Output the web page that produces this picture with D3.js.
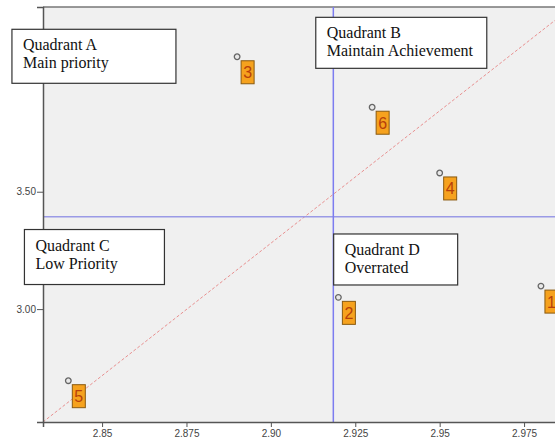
<!DOCTYPE html>
<html>
<head>
<meta charset="utf-8">
<script src="https://cdn.jsdelivr.net/npm/d3@7"></script>
<style>
	body { margin: 0; background: #fff; }
	svg { display: block; overflow: hidden; }
	.axis text { font-family: Arial, "Liberation Sans", sans-serif; font-size: 10px; fill: #444; }
	.axis path, .axis line { stroke: #555; }
	.quad text { font-family: "Liberation Serif", "Times New Roman", serif; font-size: 16px; fill: #111; }
	.pt text { font-family: Arial, "Liberation Sans", sans-serif; font-size: 16px; fill: #b8400a; }
</style>
</head>
<body>
<div id="chart"></div>
<script>
// data
let ids = [1, 2, 3, 4, 5, 6];
let xVals = [2.980, 2.920, 2.890, 2.950, 2.840, 2.930];
let yVals = [3.098, 3.050, 4.075, 3.580, 2.695, 3.860];
let xTicks = [2.85, 2.875, 2.90, 2.925, 2.95, 2.975];
let yTicks = [3.00, 3.50];
let xMean = 2.9185;
let yMean = 3.393;

// quadrant notes, anchored in data units (top-left corner)
let quadLines = [
	["Quadrant A", "Main priority"],
	["Quadrant B", "Maintain Achievement"],
	["Quadrant C", "Low Priority"],
	["Quadrant D", "Overrated"]
];
let quadX = [2.8233, 2.9133, 2.8270, 2.9186];
let quadY = [4.192, 4.243, 3.339, 3.320];

// box sizes (px) - style, not data
let quadW = [164, 171, 140, 124];
let quadH = [54, 51, 55, 51];

let width = 555, height = 443;
let margin = {top: 7, left: 43, right: -17, bottom: 21};
let innerWidth = width - margin.left - margin.right;
let innerHeight = height - margin.top - margin.bottom;

let x = d3.scaleLinear().domain([2.8325, 2.9892]).range([0, innerWidth]);
let y = d3.scaleLinear().domain([2.519, 4.287]).range([innerHeight, 0]);

let svg = d3.select("#chart").append("svg")
	.attr("width", width)
	.attr("height", height);

let g = svg.append("g")
	.attr("transform", "translate(" + margin.left + "," + margin.top + ")");

// plot background
g.append("rect")
	.attr("width", innerWidth)
	.attr("height", innerHeight)
	.attr("fill", "#f0f0f0");

// frame top
g.append("line")
	.attr("x1", 0).attr("x2", innerWidth)
	.attr("y1", 0).attr("y2", 0)
	.attr("stroke", "#777").attr("stroke-width", 1.5);

// diagonal reference line (corner to corner)
g.append("line")
	.attr("x1", x(x.domain()[0])).attr("y1", y(y.domain()[0]))
	.attr("x2", x(x.domain()[1])).attr("y2", y(y.domain()[1]))
	.attr("stroke", "#e89090")
	.attr("stroke-width", 1)
	.attr("stroke-dasharray", "3,2");

// mean lines
g.append("line")
	.attr("x1", 0).attr("x2", innerWidth)
	.attr("y1", y(yMean)).attr("y2", y(yMean))
	.attr("stroke", "#9a9ae6").attr("stroke-width", 1.5);
g.append("line")
	.attr("x1", x(xMean)).attr("x2", x(xMean))
	.attr("y1", 0).attr("y2", innerHeight)
	.attr("stroke", "#7c7cf0").attr("stroke-width", 1.5);

// axes
let xAxis = d3.axisBottom(x).tickValues(xTicks).tickSize(5).tickPadding(3)
	.tickFormat(d => d === 2.875 || d === 2.925 || d === 2.975 ? d3.format(".3f")(d) : d3.format(".2f")(d));
let yAxis = d3.axisLeft(y).tickValues(yTicks).tickSize(6).tickPadding(1).tickFormat(d3.format(".2f"));

g.append("g")
	.attr("class", "x-axis axis")
	.attr("transform", "translate(0," + innerHeight + ")")
	.call(xAxis)
	.call(s => s.select(".domain").attr("stroke-width", 1.5));

g.append("g")
	.attr("class", "y-axis axis")
	.call(yAxis)
	.call(s => s.select(".domain").attr("stroke-width", 1.5));

// points with their id labels
let pts = g.selectAll(".pt")
	.data(ids.map((id, i) => ({id: id, x: xVals[i], y: yVals[i]})))
	.enter().append("g")
	.attr("class", "pt")
	.attr("transform", d => "translate(" + x(d.x) + "," + y(d.y) + ")");

pts.append("circle")
	.attr("r", 2.8)
	.attr("fill", "#e8e8e8")
	.attr("stroke", "#666")
	.attr("stroke-width", 1.3);

pts.append("rect")
	.attr("x", 4).attr("y", 4)
	.attr("width", 13).attr("height", 23)
	.attr("fill", "#f6a21e")
	.attr("stroke", "#8a5a10")
	.attr("stroke-width", 1);

pts.append("text")
	.attr("x", 10.5).attr("y", 21.5)
	.attr("text-anchor", "middle")
	.text(d => d.id);

// quadrant notes
let quads = g.selectAll(".quad")
	.data(quadLines.map((lines, i) => ({lines: lines, x: quadX[i], y: quadY[i], w: quadW[i], h: quadH[i]})))
	.enter().append("g")
	.attr("class", "quad")
	.attr("transform", d => "translate(" + x(d.x) + "," + y(d.y) + ")");

quads.append("rect")
	.attr("width", d => d.w)
	.attr("height", d => d.h)
	.attr("fill", "#fff")
	.attr("stroke", "#333")
	.attr("stroke-width", 1.2);

quads.selectAll("text")
	.data(d => d.lines)
	.enter().append("text")
	.attr("x", 11)
	.attr("y", (d, i) => 21 + i * 18)
	.text(d => d);
</script>
</body>
</html>
